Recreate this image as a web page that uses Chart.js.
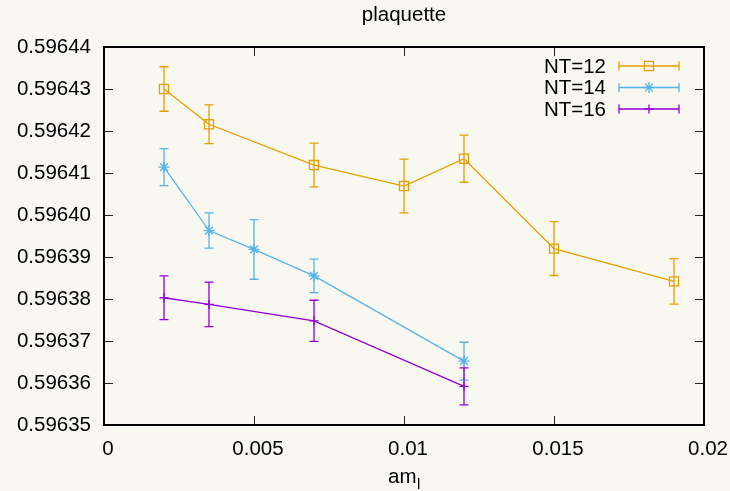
<!DOCTYPE html>
<html>
<head>
<meta charset="utf-8">
<script src="https://cdn.jsdelivr.net/npm/chart.js@4"></script>
<style>
  body { margin: 0; background: #f8f7f0; }
  #wrap { width: 730px; height: 491px; }
</style>
</head>
<body>
<div id="wrap"><canvas id="plaqChart" width="730" height="491"></canvas></div>
<script>
// am_l values and plaquette averages with errors, per NT
const amlNT12 = [0.002, 0.0035, 0.007, 0.01, 0.012, 0.015, 0.019];
const plaqNT12 = [0.5964300, 0.5964216, 0.5964119, 0.5964069, 0.5964134, 0.5963920, 0.5963842];
const errNT12 = [0.0000053, 0.0000046, 0.0000052, 0.0000064, 0.0000056, 0.0000064, 0.0000054];

const amlNT14 = [0.002, 0.0035, 0.005, 0.007, 0.012];
const plaqNT14 = [0.5964114, 0.5963963, 0.5963918, 0.5963855, 0.5963652];
const errNT14 = [0.0000044, 0.0000042, 0.0000071, 0.0000040, 0.0000045];

const amlNT16 = [0.002, 0.0035, 0.007, 0.012];
const plaqNT16 = [0.5963803, 0.5963787, 0.5963748, 0.5963592];
const errNT16 = [0.0000052, 0.0000053, 0.0000049, 0.0000044];

const xTicks = [0, 0.005, 0.01, 0.015, 0.02];
const seriesLabels = ["NT=12", "NT=14", "NT=16"];

const FONT = "'Liberation Sans', Arial, sans-serif";
const FSIZE = 20.5;

function toPoints(xs, ys, es) {
    return xs.map((x, i) => ({ x: x, y: ys[i], err: es[i] }));
}

// error bars drawn through the scales
const errorBars = {
    id: "errorBars",
    beforeDatasetsDraw(chart) {
        const ctx = chart.ctx;
        const xs = chart.scales.x, ys = chart.scales.y;
        chart.data.datasets.forEach(ds => {
            ctx.save();
            ctx.strokeStyle = ds.borderColor;
            ctx.lineWidth = 1.3;
            ds.data.forEach(p => {
                const px = xs.getPixelForValue(p.x);
                const top = ys.getPixelForValue(p.y + p.err);
                const bot = ys.getPixelForValue(p.y - p.err);
                ctx.beginPath();
                ctx.moveTo(px, top); ctx.lineTo(px, bot);
                ctx.moveTo(px - 4.5, top); ctx.lineTo(px + 4.5, top);
                ctx.moveTo(px - 4.5, bot); ctx.lineTo(px + 4.5, bot);
                ctx.stroke();
            });
            ctx.restore();
        });
    }
};

// gnuplot-like frame, inward ticks, titles and key
const frame = {
    id: "frame",
    afterDraw(chart) {
        const ctx = chart.ctx;
        const a = chart.chartArea;
        const xs = chart.scales.x, ys = chart.scales.y;
        ctx.save();
        ctx.strokeStyle = "#222";
        ctx.lineWidth = 1;
        ctx.beginPath();
        xTicks.forEach(v => {
            const px = Math.round(xs.getPixelForValue(v)) + 0.5;
            ctx.moveTo(px, a.bottom); ctx.lineTo(px, a.bottom - 9);
            ctx.moveTo(px, a.top); ctx.lineTo(px, a.top + 9);
        });
        ys.ticks.forEach(t => {
            const py = Math.round(ys.getPixelForValue(t.value)) + 0.5;
            ctx.moveTo(a.left, py); ctx.lineTo(a.left + 9, py);
            ctx.moveTo(a.right, py); ctx.lineTo(a.right - 9, py);
        });
        ctx.stroke();
        ctx.lineWidth = 2;
        ctx.strokeStyle = "#000";
        ctx.strokeRect(a.left, a.top, a.right - a.left, a.bottom - a.top);

        ctx.fillStyle = "#000";
        ctx.font = FSIZE + "px " + FONT;
        ctx.textAlign = "center";
        ctx.textBaseline = "middle";
        const cx = (a.left + a.right) / 2;
        ctx.fillText("plaquette", cx, 15);

        // x axis title am_l
        ctx.textAlign = "left";
        ctx.textBaseline = "alphabetic";
        const w1 = ctx.measureText("am").width;
        ctx.font = "15px " + FONT;
        const w2 = ctx.measureText("l").width;
        const sx = cx - (w1 + w2) / 2;
        ctx.font = FSIZE + "px " + FONT;
        ctx.fillText("am", sx, 483);
        ctx.font = "15px " + FONT;
        ctx.fillText("l", sx + w1 + 0.5, 489);

        // key
        const rows = [66, 87.5, 109];
        chart.data.datasets.forEach((ds, i) => {
            const y = rows[i];
            ctx.font = FSIZE + "px " + FONT;
            ctx.fillStyle = "#000";
            ctx.textAlign = "right";
            ctx.textBaseline = "middle";
            ctx.fillText(seriesLabels[i], 606, y + 1);
            ctx.strokeStyle = ds.borderColor;
            ctx.fillStyle = "rgba(0,0,0,0)";
            ctx.lineWidth = 1.3;
            ctx.beginPath();
            ctx.moveTo(619, y); ctx.lineTo(679, y);
            ctx.moveTo(619, y - 4.5); ctx.lineTo(619, y + 4.5);
            ctx.moveTo(679, y - 4.5); ctx.lineTo(679, y + 4.5);
            ctx.stroke();
            Chart.helpers.drawPoint(ctx, {
                pointStyle: ds.pointStyle,
                radius: ds.pointRadius,
                borderWidth: 1.3,
                rotation: 0
            }, 649, y);
        });
        ctx.restore();
    }
};

const ctx = document.getElementById("plaqChart").getContext("2d");
const plaqChart = new Chart(ctx, {
    type: "scatter",
    data: {
        datasets: [
            {
                label: seriesLabels[0],
                data: toPoints(amlNT12, plaqNT12, errNT12),
                borderColor: "#e69f00",
                backgroundColor: "rgba(0,0,0,0)",
                pointStyle: "rect",
                pointRadius: 6.4,
                pointBorderWidth: 1.3,
                showLine: true,
                borderWidth: 1.3
            },
            {
                label: seriesLabels[1],
                data: toPoints(amlNT14, plaqNT14, errNT14),
                borderColor: "#56b4e9",
                backgroundColor: "rgba(0,0,0,0)",
                pointStyle: "star",
                pointRadius: 5.5,
                pointBorderWidth: 1.3,
                showLine: true,
                borderWidth: 1.3
            },
            {
                label: seriesLabels[2],
                data: toPoints(amlNT16, plaqNT16, errNT16),
                borderColor: "#9400d3",
                backgroundColor: "rgba(0,0,0,0)",
                pointStyle: "cross",
                pointRadius: 4.5,
                pointBorderWidth: 1.3,
                showLine: true,
                borderWidth: 1.3
            }
        ]
    },
    options: {
        responsive: false,
        animation: false,
        events: [],
        layout: { padding: { left: 0, right: 26, top: 47, bottom: 0 } },
        plugins: {
            legend: { display: false },
            title: { display: false },
            tooltip: { enabled: false }
        },
        scales: {
            x: {
                type: "linear",
                min: 0,
                max: 0.02,
                afterBuildTicks: scale => { scale.ticks = xTicks.map(v => ({ value: v })); },
                afterFit: scale => {
                    scale.height = 66;
                    scale.paddingLeft = 0;
                    scale.paddingRight = 0;
                },
                grid: { display: false, drawTicks: false },
                border: { display: false },
                ticks: {
                    padding: 12,
                    labelOffset: 4,
                    color: "#000",
                    font: { family: FONT, size: FSIZE },
                    maxRotation: 0,
                    callback: v => String(+v.toFixed(3))
                }
            },
            y: {
                type: "linear",
                min: 0.59635,
                max: 0.59644,
                afterFit: scale => {
                    scale.width = 104;
                    scale.paddingTop = 0;
                    scale.paddingBottom = 0;
                },
                grid: { display: false, drawTicks: false },
                border: { display: false },
                ticks: {
                    stepSize: 0.00001,
                    padding: 13,
                    color: "#000",
                    font: { family: FONT, size: FSIZE },
                    callback: v => v.toFixed(5)
                }
            }
        }
    },
    plugins: [errorBars, frame]
});
</script>
</body>
</html>
